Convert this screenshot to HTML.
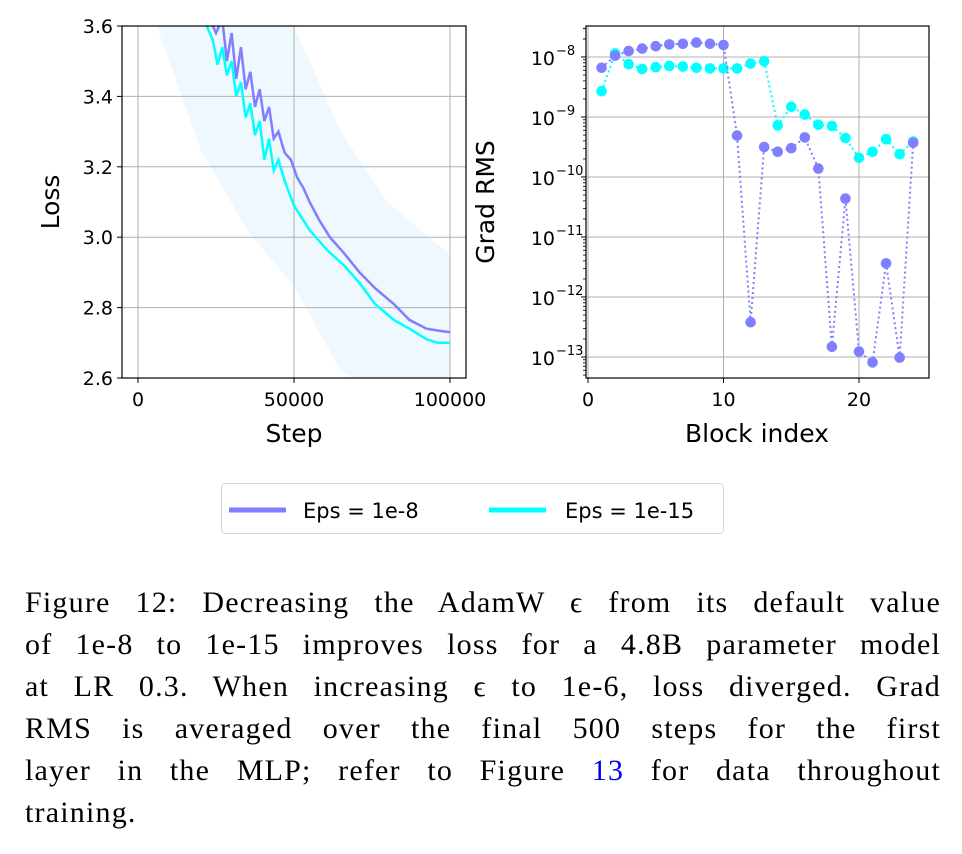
<!DOCTYPE html>
<html><head><meta charset="utf-8"><style>
body{margin:0;background:#fff;width:962px;height:854px;overflow:hidden;position:relative}
svg{position:absolute;left:0;top:0}
svg text{font-family:"DejaVu Sans","Liberation Sans",sans-serif;fill:#000}
#cap{position:absolute;left:25px;top:582px;width:916px;font-family:"Liberation Serif",serif;font-size:30px;letter-spacing:1.2px;line-height:42px;color:#000}
#cap div{text-align:justify;text-align-last:justify;white-space:nowrap;height:42px}
#cap div.last{text-align-last:left}
#cap span.ref{color:#0000ee}
</style></head><body>
<svg id="chart" width="962" height="560"></svg>
<div id="cap">
<div>Figure 12: Decreasing the AdamW ϵ from its default value</div>
<div>of 1e-8 to 1e-15 improves loss for a 4.8B parameter model</div>
<div>at LR 0.3. When increasing ϵ to 1e-6, loss diverged. Grad</div>
<div>RMS is averaged over the final 500 steps for the first</div>
<div>layer in the MLP; refer to Figure <span class="ref">13</span> for data throughout</div>
<div class="last">training.</div>
</div>
<script>
// Left chart data
const lossSteps = [23000,25000,27000,28500,30000,31500,33000,34500,36000,37500,39000,40500,42000,43500,45000,47000,49000,51000,53000,55000,58000,61500,66000,71000,76000,82000,87000,92500,96000,100000];
const lossEps8 = [3.62,3.58,3.62,3.50,3.58,3.45,3.54,3.42,3.47,3.37,3.42,3.33,3.37,3.28,3.30,3.24,3.22,3.17,3.14,3.10,3.05,3.00,2.955,2.90,2.855,2.81,2.765,2.74,2.735,2.73];
const lossEps15Steps = [20000,22000,24000,25500,27000,28500,30000,31500,33000,34500,36000,37500,39000,40500,42000,43500,45000,47000,50000,55000,61000,66000,71000,76000,82000,87000,92500,96000,100000];
const lossEps15 = [3.62,3.60,3.56,3.49,3.54,3.46,3.50,3.40,3.44,3.34,3.38,3.29,3.33,3.22,3.28,3.19,3.22,3.16,3.09,3.02,2.96,2.92,2.87,2.81,2.765,2.74,2.71,2.70,2.70];
const bandSteps = [6000,20000,35000,50000,65000,80000,100000];
const bandLow = [3.6,3.25,3.02,2.86,2.62,2.55,2.55];
const bandHigh = [3.7,3.7,3.7,3.6,3.3,3.1,2.95];
const lossYTicks = [2.6,2.8,3.0,3.2,3.4,3.6];
const lossXTicks = [0,50000,100000];
// Right chart data (log10 values)
const blocks = [1,2,3,4,5,6,7,8,9,10,11,12,13,14,15,16,17,18,19,20,21,22,23,24];
const rmsEps8 = [-8.18,-7.98,-7.90,-7.86,-7.82,-7.79,-7.78,-7.76,-7.78,-7.80,-9.31,-12.42,-9.50,-9.58,-9.52,-9.34,-9.86,-12.83,-10.36,-12.91,-13.09,-11.44,-13.01,-9.43];
const rmsEps15 = [-8.57,-7.94,-8.12,-8.20,-8.17,-8.15,-8.16,-8.18,-8.19,-8.19,-8.19,-8.11,-8.07,-9.14,-8.83,-8.96,-9.13,-9.15,-9.35,-9.68,-9.58,-9.37,-9.62,-9.41];
const rmsYTicks = [-8,-9,-10,-11,-12,-13];
const rmsXTicks = [0,10,20];

const NS='http://www.w3.org/2000/svg';
const svg=document.getElementById('chart');
function mk(tag,attrs,parent){const e=document.createElementNS(NS,tag);for(const k in attrs)e.setAttribute(k,attrs[k]);(parent||svg).appendChild(e);return e;}
const P='#7f7fff',C='#00ffff';
const L={x0:122,x1:466,y0:26,y1:378};
const lx=v=>138+(v/100000)*312, ly=v=>378-(v-2.6)*352;
const lg=mk('g',{});


const cp=mk('clipPath',{id:'cl'},lg);
mk('rect',{x:L.x0,y:L.y0,width:L.x1-L.x0,height:L.y1-L.y0},cp);
let bp=bandSteps.map((s,i)=>lx(s)+','+ly(bandHigh[i])).join(' ')+' '+bandSteps.slice().reverse().map((s,i)=>lx(s)+','+ly(bandLow[bandSteps.length-1-i])).join(' ');
const band=mk('polygon',{points:bp,fill:'#eef8fe','clip-path':'url(#cl)'},lg);


lossYTicks.forEach(t=>{mk('line',{x1:L.x0,x2:L.x1,y1:ly(t),y2:ly(t),stroke:'#b0b0b0','stroke-width':1},lg);mk('line',{x1:L.x0-5,x2:L.x0,y1:ly(t),y2:ly(t),stroke:'#000'},lg);
 const tx=mk('text',{x:L.x0-9,y:ly(t)+7,'text-anchor':'end','font-size':19},lg);tx.textContent=t.toFixed(1);
 });
lossXTicks.forEach(t=>{mk('line',{x1:lx(t),x2:lx(t),y1:L.y0,y2:L.y1,stroke:'#b0b0b0'},lg);mk('line',{x1:lx(t),x2:lx(t),y1:L.y1,y2:L.y1+5,stroke:'#000'},lg);
 const tx=mk('text',{x:lx(t),y:L.y1+28,'text-anchor':'middle','font-size':19},lg);tx.textContent=t;
 });
const l8=mk('polyline',{points:lossSteps.map((s,i)=>lx(s)+','+ly(lossEps8[i])).join(' '),fill:'none',stroke:P,'stroke-width':2.5,'clip-path':'url(#cl)'},lg);

const l15=mk('polyline',{points:lossEps15Steps.map((s,i)=>lx(s)+','+ly(lossEps15[i])).join(' '),fill:'none',stroke:C,'stroke-width':2.5,'clip-path':'url(#cl)'},lg);

mk('rect',{x:L.x0,y:L.y0,width:L.x1-L.x0,height:L.y1-L.y0,fill:'none',stroke:'#000','stroke-width':1.2},lg);
let t=mk('text',{x:294,y:442,'text-anchor':'middle','font-size':25},lg);t.textContent='Step';

t=mk('text',{x:0,y:0,'text-anchor':'middle','font-size':25,transform:'translate(59,202) rotate(-90)'},lg);t.textContent='Loss';

// Right axes
const R={x0:586,x1:929,y0:26,y1:378};
const rx=v=>588+v*13.55, ry=v=>57+(-8-v)*60;
const rg=mk('g',{});


function minor(dec){for(let m=2;m<10;m++){const yy=ry(dec+Math.log10(m));if(yy>R.y0&&yy<R.y1)mk('line',{x1:R.x0-3,x2:R.x0,y1:yy,y2:yy,stroke:'#000','stroke-width':0.8},rg);}}
rmsYTicks.forEach(tk=>{mk('line',{x1:R.x0,x2:R.x1,y1:ry(tk),y2:ry(tk),stroke:'#b0b0b0'},rg);mk('line',{x1:R.x0-5,x2:R.x0,y1:ry(tk),y2:ry(tk),stroke:'#000'},rg);
 minor(tk);
 const tx=mk('text',{x:R.x0-31,y:ry(tk)+8,'text-anchor':'end','font-size':19},rg);tx.textContent='10';
 
 const sp=mk('text',{x:R.x0-30,y:ry(tk)-2,'text-anchor':'start','font-size':13},rg);sp.textContent='−'+(-tk);
 });
minor(-14);minor(-8);
rmsXTicks.forEach(tk=>{mk('line',{x1:rx(tk),x2:rx(tk),y1:R.y0,y2:R.y1,stroke:'#b0b0b0'},rg);mk('line',{x1:rx(tk),x2:rx(tk),y1:R.y1,y2:R.y1+5,stroke:'#000'},rg);
 const tx=mk('text',{x:rx(tk),y:R.y1+28,'text-anchor':'middle','font-size':19},rg);tx.textContent=tk;
 });
[[rmsEps15,C,'cyan'],[rmsEps8,P,'purple']].forEach(([arr,col,nm])=>{
 const pl=mk('polyline',{points:blocks.map((b,i)=>rx(b)+','+ry(arr[i])).join(' '),fill:'none',stroke:col,'stroke-width':2,'stroke-dasharray':'2,3'},rg);
 
 blocks.forEach((b,i)=>{const c=mk('circle',{cx:rx(b),cy:ry(arr[i]),r:5.3,fill:col},rg);
  });
});
mk('rect',{x:R.x0,y:R.y0,width:R.x1-R.x0,height:R.y1-R.y0,fill:'none',stroke:'#000','stroke-width':1.2},rg);
t=mk('text',{x:757,y:442,'text-anchor':'middle','font-size':25},rg);t.textContent='Block index';

t=mk('text',{x:0,y:0,'text-anchor':'middle','font-size':25,transform:'translate(494,202) rotate(-90)'},rg);t.textContent='Grad RMS';

// Legend
const leg=mk('g',{});


mk('rect',{x:221.5,y:483.5,width:502,height:50,rx:4,fill:'#fff',stroke:'#d6d6d6'},leg);
const e1=mk('g',{},leg);
mk('line',{x1:229,x2:286,y1:510,y2:510,stroke:P,'stroke-width':5},e1);
t=mk('text',{x:303,y:518,'font-size':21},e1);t.textContent='Eps = 1e-8';
const e2=mk('g',{},leg);
mk('line',{x1:489,x2:546,y1:510,y2:510,stroke:C,'stroke-width':5},e2);
t=mk('text',{x:565,y:518,'font-size':21},e2);t.textContent='Eps = 1e-15';
</script>
</body></html>
